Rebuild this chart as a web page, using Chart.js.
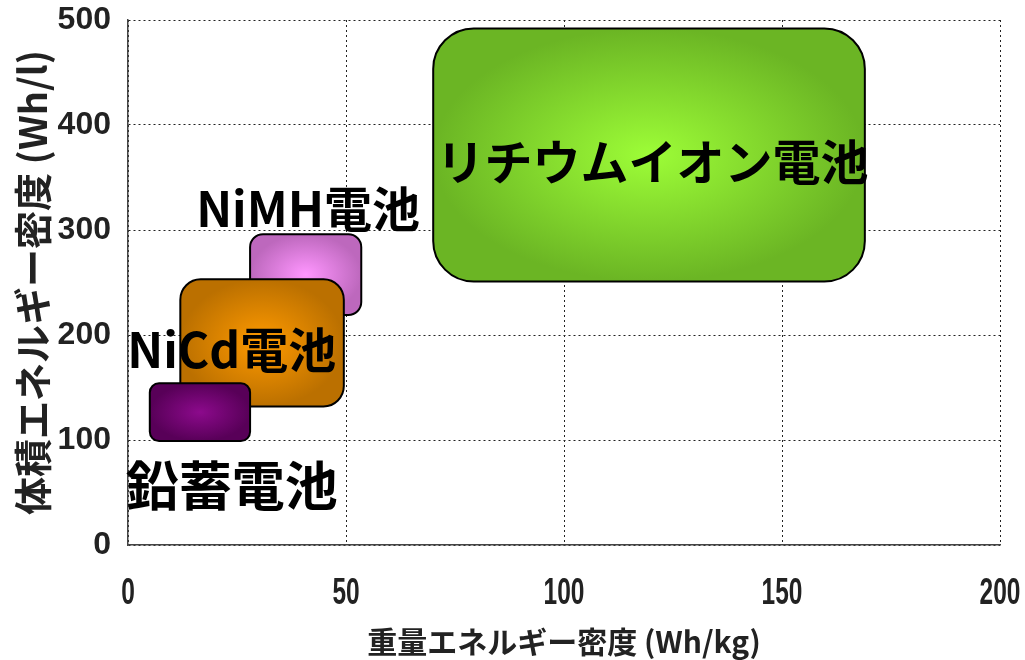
<!DOCTYPE html>
<html>
<head>
<meta charset="utf-8">
<script src="https://cdn.jsdelivr.net/npm/chart.js@4/dist/chart.umd.min.js"></script>
<style>
  html, body { margin: 0; padding: 0; background: #fff; }
  #wrap { width: 1025px; height: 660px; }
</style>
</head>
<body>
<div id="wrap"><canvas id="chart"></canvas></div>
<script>
// battery types and their ranges (Wh/kg, Wh/l)
const batteries = ['鉛蓄電池', 'NiCd電池', 'NiMH電池', 'リチウムイオン電池'];
const gravMin = [5, 12, 28, 70];
const gravMax = [28, 49.5, 53.5, 169];
const volMin = [99, 132, 219, 251];
const volMax = [154, 253, 296, 492];
const xTicks = [0, 50, 100, 150, 200];
const yTicks = [0, 100, 200, 300, 400, 500];

// look of each box: [centre colour, edge colour]
const boxColors = [
  ['#8c0a8c', '#580058'],
  ['#ff9a00', '#bb7000'],
  ['#ff96ff', '#bd68bd'],
  ['#9dfd37', '#6bb524']
];
const drawOrder = [3, 2, 1, 0];
// where each name sits, in axis units
const labelX = [23.8, 23.8, 41.3, 120.3];
const labelY = [56, 186, 320, 365];
const labelSize = [53, 48, 48, 48];

const boxPlugin = {
  id: 'energyBoxes',
  afterDatasetsDraw(chart) {
    const { ctx, scales: { x, y } } = chart;
    ctx.save();
    drawOrder.forEach(i => {
      const l = x.getPixelForValue(gravMin[i]);
      const r = x.getPixelForValue(gravMax[i]);
      const t = y.getPixelForValue(volMax[i]);
      const b = y.getPixelForValue(volMin[i]);
      const w = r - l, h = b - t;
      const rad = Math.min(w, h) * 0.16;
      ctx.beginPath();
      ctx.roundRect(l, t, w, h, rad);
      ctx.save();
      ctx.translate(l + w / 2, t + h / 2);
      ctx.scale(w / 2, h / 2);
      const g = ctx.createRadialGradient(0, 0, 0, 0, 0, 1);
      g.addColorStop(0, boxColors[i][0]);
      g.addColorStop(1, boxColors[i][1]);
      ctx.fillStyle = g;
      ctx.fill();
      ctx.restore();
      ctx.lineWidth = 2;
      ctx.strokeStyle = '#000';
      ctx.stroke();
    });
    ctx.fillStyle = '#000';
    ctx.textAlign = 'center';
    ctx.textBaseline = 'middle';
    batteries.forEach((name, i) => {
      ctx.font = `bold ${labelSize[i]}px "Noto Sans CJK JP"`;
      ctx.fillText(name, x.getPixelForValue(labelX[i]), y.getPixelForValue(labelY[i]));
    });
    ctx.restore();
  }
};

// narrow x tick labels, as in the original
const narrowTicks = {
  id: 'narrowTicks',
  afterDraw(chart) {
    const { ctx, scales: { x } } = chart;
    ctx.save();
    ctx.fillStyle = '#222';
    ctx.font = 'bold 36px "Liberation Sans"';
    ctx.textAlign = 'center';
    ctx.textBaseline = 'middle';
    xTicks.forEach(v => {
      ctx.save();
      ctx.translate(x.getPixelForValue(v), x.top + 49);
      ctx.scale(0.68, 1);
      ctx.fillText(String(v), 0, 0);
      ctx.restore();
    });
    ctx.restore();
  }
};

const datasets = batteries.map((name, i) => ({
  label: name,
  data: [{ x: gravMin[i], y: volMin[i] }, { x: gravMax[i], y: volMax[i] }],
  pointRadius: 0,
  showLine: false
}));

new Chart(document.getElementById('chart'), {
  type: 'scatter',
  data: { datasets },
  options: {
    responsive: true,
    maintainAspectRatio: false,
    animation: false,
    layout: { padding: { top: 20, right: 25, left: 0, bottom: 0 } },
    plugins: {
      legend: { display: false },
      tooltip: { enabled: false }
    },
    scales: {
      x: {
        type: 'linear',
        min: 0,
        max: 200,
        afterBuildTicks: axis => { axis.ticks = xTicks.map(v => ({ value: v })); },
        afterFit: axis => {
          axis.height = 115;
          axis.paddingLeft = 0;
          axis.paddingRight = 0;
        },
        grid: { color: '#222', lineWidth: 1, drawTicks: false },
        border: { display: true, color: '#444', width: 1.5, dash: [2, 3] },
        ticks: { display: false },
        title: {
          display: true,
          text: '重量エネルギー密度 (Wh/kg)',
          color: '#222',
          padding: { top: 0, bottom: 0 },
          font: { family: '"Noto Sans CJK JP"', size: 30, weight: 'bold' }
        }
      },
      y: {
        type: 'linear',
        min: 0,
        max: 500,
        afterBuildTicks: axis => { axis.ticks = yTicks.map(v => ({ value: v })); },
        afterFit: axis => {
          axis.width = 128;
          axis.paddingTop = 0;
          axis.paddingBottom = 0;
        },
        grid: { color: '#222', lineWidth: 1, drawTicks: false },
        border: { display: true, color: '#444', width: 1.5, dash: [2, 3] },
        ticks: {
          color: '#222',
          padding: 17,
          font: { family: '"Liberation Sans", sans-serif', size: 32, weight: 'bold' }
        },
        title: {
          display: true,
          text: '体積エネルギー密度 (Wh/l)',
          color: '#222',
          padding: { top: 10, bottom: 0 },
          font: { family: '"Noto Sans CJK JP"', size: 38, weight: 'bold' }
        }
      }
    }
  },
  plugins: [boxPlugin, narrowTicks]
});
</script>
</body>
</html>
